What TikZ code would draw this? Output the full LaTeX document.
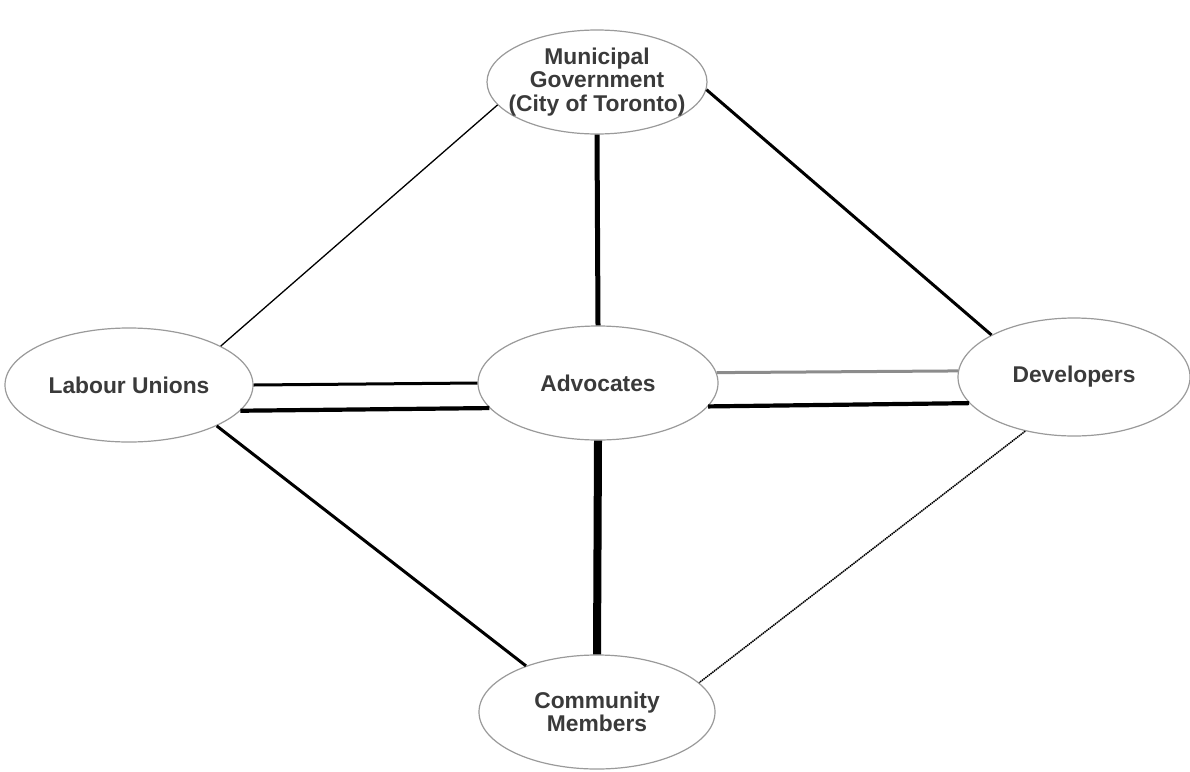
\documentclass[tikz,border=0pt]{standalone}
\usepackage{fontspec}
\setmainfont{Liberation Sans}
\usepackage{tikz}
\definecolor{rimgray}{HTML}{9A9A9A}
\definecolor{textgray}{HTML}{3A3A3A}
\definecolor{linkgray}{HTML}{8C8C8C}
\tikzset{%
  actor/.style    = {shape=ellipse, draw=rimgray, line width=1.2pt, fill=white,%
                     inner sep=0pt, align=center, text=textgray,%
                     font=\bfseries\fontsize{22.8}{23.5}\selectfont},%
  weak/.style     = {line width=1.3pt},%
  medium/.style   = {line width=3pt},%
  strong/.style   = {line width=4.2pt},%
  vstrong/.style  = {line width=5pt},%
  xstrong/.style  = {line width=8pt},%
  faint/.style    = {line width=3pt, draw=linkgray},%
  tenuous/.style  = {line width=1.5pt, dash pattern=on 1.5pt off 0.7pt}%
}
\usetikzlibrary{shapes.geometric}
\begin{document}
\begin{tikzpicture}[x=1pt,y=-1pt]
	\useasboundingbox (0,0) rectangle (1190,771);
	% stakeholders
	\node [actor, inner xsep=-14pt, minimum width=220pt, minimum height=104pt] (gov) at (597,82)
		{Municipal\\Government\\(City of Toronto)};
	\node [actor, minimum width=248pt, minimum height=114pt] (union) at (129,385) {Labour Unions};
	\node [actor, minimum width=240pt, minimum height=114pt] (adv) at (598,383) {Advocates};
	\node [actor, minimum width=232pt, minimum height=118pt] (dev) at (1074,377) {Developers};
	\node [actor, minimum width=236pt, minimum height=114pt] (comm) at (597,712)
		{Community\\Members};
	% relationships
	\draw [weak]    (gov.193.7) -- (union.23);
	\draw [vstrong] (gov.south) -- (adv.north);
	\draw [medium]  (gov.-4) -- (dev.153);
	\draw [medium]  (union.east) -- (adv.west);
	\draw [strong]  (union.-13.7) -- (adv.193);
	\draw [faint]   (adv.5.6) -- (dev.177);
	\draw [strong]  (adv.-12.6) -- (dev.194);
	\draw [medium]  (union.-25.8) -- (comm.147);
	\draw [xstrong] (adv.south) -- (comm.north);
	\draw [tenuous] (dev.228) -- (comm.16);
\end{tikzpicture}
\end{document}
